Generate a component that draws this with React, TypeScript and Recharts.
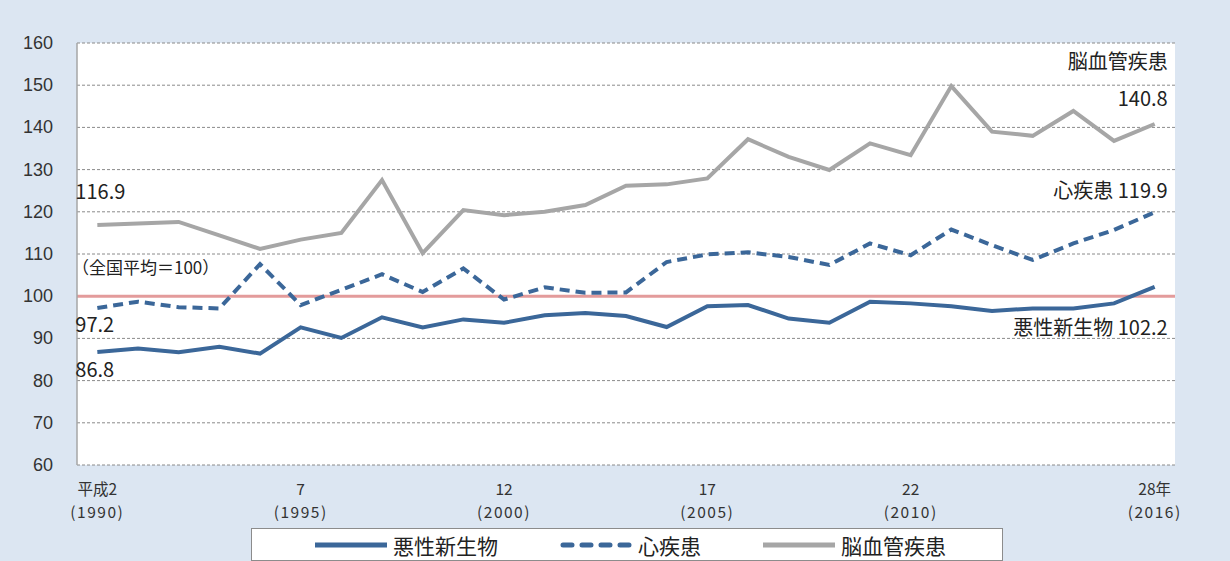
import { CartesianGrid, LabelList, Legend, Line, LineChart, ReferenceLine, XAxis, YAxis } from "recharts"

const years = [
  1990, 1991, 1992, 1993, 1994, 1995, 1996, 1997, 1998, 1999, 2000, 2001, 2002, 2003,
  2004, 2005, 2006, 2007, 2008, 2009, 2010, 2011, 2012, 2013, 2014, 2015, 2016,
]

// 悪性新生物
const cancer = [
  86.8, 87.6, 86.7, 88.0, 86.4, 92.6, 90.1, 95.0, 92.6, 94.5, 93.7, 95.5, 96.0, 95.3,
  92.7, 97.6, 97.9, 94.7, 93.7, 98.7, 98.3, 97.6, 96.5, 97.1, 97.1, 98.3, 102.2,
]
// 心疾患
const heart = [
  97.2, 98.7, 97.4, 97.1, 107.6, 97.9, 101.5, 105.2, 101.0, 106.6, 99.2, 102.1, 100.8, 100.9,
  108.1, 109.9, 110.4, 109.3, 107.4, 112.5, 109.7, 115.8, 112.1, 108.6, 112.5, 115.7, 119.9,
]
// 脳血管疾患
const stroke = [
  116.9, 117.2, 117.6, 114.4, 111.2, 113.4, 115.0, 127.5, 110.2, 120.4, 119.2, 120.0, 121.6, 126.2,
  126.5, 127.9, 137.2, 133.0, 129.9, 136.2, 133.4, 149.8, 139.0, 138.0, 143.9, 136.8, 140.8,
]

const yTicks = [60, 70, 80, 90, 100, 110, 120, 130, 140, 150, 160]
const labelYears = [1990, 1995, 2000, 2005, 2010, 2016]
const eraLabels = ["平成2", "7", "12", "17", "22", "28年"]
const tickMarks = [...years.map((y) => y - 0.5), 2016.5]

const data = years.map((year, i) => ({
  year,
  cancer: cancer[i],
  heart: heart[i],
  stroke: stroke[i],
}))

const BLUE = "#3b6799"
const GREY = "#a6a6a6"
const FONT = "'Noto Sans CJK JP', 'Noto Sans', sans-serif"

function YearTick({ x, y, payload }: any) {
  const idx = labelYears.indexOf(payload.value)
  return (
    <g fontFamily={FONT} fontSize={15.5} fill="#333">
      <text x={x} y={y + 22} textAnchor="middle">{eraLabels[idx]}</text>
      <text x={x} y={y + 45} textAnchor="middle" letterSpacing={1.5}>({payload.value})</text>
    </g>
  )
}

function ValueTick({ x, y, payload }: any) {
  return (
    <text x={x} y={y} dy={6} textAnchor="end" fontFamily="'Liberation Sans', sans-serif" fontSize={18} fill="#333">
      {payload.value}
    </text>
  )
}

// end-point annotations
function endLabel(first: string[], last: string[], firstDy: number, lastDy: number) {
  return (props: any) => {
    const { x, y, index } = props
    const style = { fontFamily: FONT, fill: "#222" }
    if (index === 0) {
      return (
        <text x={first[1] === "c" ? x + 3 : x - 22} y={y + firstDy} fontSize={20} {...style}
          textAnchor={first[1] === "c" ? "middle" : "start"}>
          {first[0]}
        </text>
      )
    }
    if (index === years.length - 1) {
      return (
        <g {...style}>
          {last.map((t, k) => (
            <text key={k} x={x + 13} y={y + lastDy + k * 37 - (last.length - 1) * 37} fontSize={20} textAnchor="end">{t}</text>
          ))}
        </g>
      )
    }
    return null
  }
}

function LegendBox() {
  const item = (label: string, color: string, dashed?: boolean) => (
    <div style={{ display: "flex", alignItems: "center" }}>
      <svg width={72} height={8}>
        <line x1={dashed ? 3 : 0} y1={4} x2={dashed ? 69 : 72} y2={4} stroke={color} strokeWidth={5}
          strokeDasharray={dashed ? "9 10" : undefined} strokeLinecap={dashed ? "round" : "butt"} />
      </svg>
      <span style={{ marginLeft: 6 }}>{label}</span>
    </div>
  )
  return (
    <div style={{
      boxSizing: "border-box", width: 752, height: 33, border: "1px solid #8c8c8c", background: "#fff",
      display: "flex", alignItems: "center", paddingLeft: 63, gap: 62,
      fontFamily: FONT, fontSize: 21, color: "#222",
    }}>
      {item("悪性新生物", BLUE)}
      {item("心疾患", BLUE, true)}
      {item("脳血管疾患", GREY)}
    </div>
  )
}

export default function App() {
  return (
    <div style={{ width: 1230, height: 561, background: "#dce6f2", position: "absolute", left: 0, top: 0 }}>
      <style>{"body{margin:0}"}</style>
      <LineChart width={1230} height={561} data={data} margin={{ top: 43, right: 55, left: 0, bottom: 36 }}>
        <CartesianGrid xAxisId="x" vertical={false} fill="#fff" stroke="#8a8a8a" strokeDasharray="3 2" />
        <XAxis xAxisId="t" type="number" dataKey="year" domain={[1989.5, 2016.5]} ticks={tickMarks}
          interval={0} height={0} mirror tickSize={4} stroke="#a6a6a6" strokeWidth={1.5}
          tick={() => <g />} />
        <XAxis xAxisId="x" type="number" dataKey="year" domain={[1989.5, 2016.5]} ticks={labelYears}
          interval={0} height={60} axisLine={false} tickLine={false} tick={<YearTick />} />
        <YAxis domain={[60, 160]} ticks={yTicks} width={77} tickLine={false} tickSize={0} tickMargin={24}
          stroke="#a6a6a6" strokeWidth={1.5} tick={<ValueTick />} />
        <ReferenceLine xAxisId="x" y={100} stroke="#e39b9b" strokeWidth={3}
          label={(p: any) => (
            <text x={p.viewBox.x - 5} y={p.viewBox.y - 22} fontFamily={FONT} fontSize={17} fill="#222">（全国平均＝100）</text>
          )} />
        <Line xAxisId="x" type="linear" dataKey="stroke" name="脳血管疾患" stroke={GREY} strokeWidth={4}
          dot={false} isAnimationActive={false}>
          <LabelList dataKey="stroke" content={endLabel(["116.9", "c"], ["脳血管疾患", "140.8"], -26, -18)} />
        </Line>
        <Line xAxisId="x" type="linear" dataKey="heart" name="心疾患" stroke={BLUE} strokeWidth={4}
          strokeDasharray="10 6" dot={false} isAnimationActive={false}>
          <LabelList dataKey="heart" content={endLabel(["97.2", "l"], ["心疾患 119.9"], 24, -14)} />
        </Line>
        <Line xAxisId="x" type="linear" dataKey="cancer" name="悪性新生物" stroke={BLUE} strokeWidth={4}
          dot={false} isAnimationActive={false}>
          <LabelList dataKey="cancer" content={endLabel(["86.8", "l"], ["悪性新生物 102.2"], 25, 48)} />
        </Line>
        <Legend layout="horizontal" verticalAlign="middle" align="center" content={<LegendBox />}
          wrapperStyle={{ left: 251, top: 528, width: 752, height: 33 }} />
      </LineChart>
    </div>
  )
}
